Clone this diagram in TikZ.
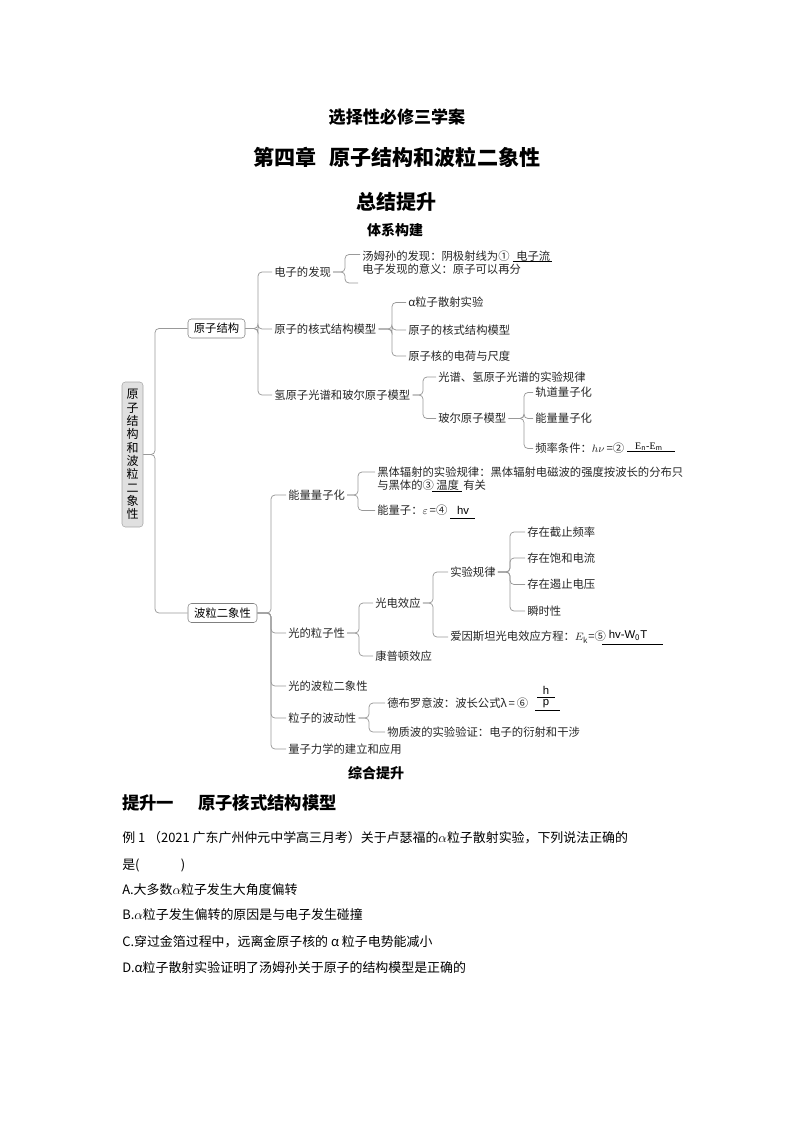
\documentclass[tikz,border=0pt]{standalone}
\usepackage{fontspec}
\setmainfont{Noto Sans CJK SC}
\newfontfamily\lat{Liberation Sans}
\newfontfamily\ser{Liberation Serif}
\begin{document}
\begin{tikzpicture}[x=0.75pt,y=-0.75pt,
  lbl/.style={anchor=west, inner xsep=1.5pt, inner ysep=1pt, xshift=-1.5pt, font=\fontsize{8.5}{10}\selectfont, text=black!85},
  ans/.style={inner sep=0pt, font=\lat\fontsize{8.5}{10}\selectfont},
  conn/.style={draw=black!40, line width=0.55pt, rounded corners=3pt},
  uline/.style={draw=black, line width=0.5pt},
  catbox/.style={draw=black!50, rounded corners=2.5pt, minimum height=14.25pt, inner xsep=2pt, inner ysep=0pt, font=\fontsize{8.5}{10}\selectfont},
  rootbox/.style={draw=black!35, fill=black!12, rounded corners=2.5pt, minimum width=15.75pt, minimum height=108.75pt, inner sep=0pt, align=center, font=\fontsize{9}{10}\selectfont},
  title/.style={font=\bfseries\fontsize{#1}{#1}\selectfont, inner sep=0pt},
  qtext/.style={anchor=west, inner sep=0pt, font=\fontsize{9.7}{11}\selectfont}
]
\useasboundingbox (0,0) rectangle (794,1123);

% titles
\node[title=12.8] (t1) at (397,117) {选择性必修三学案};
\node[title=15.8] (t2) at (397,157) {第四章\hspace{0.6em}原子结构和波粒二象性};
\node[title=15] (t3) at (396,202) {总结提升};
\node[title=10.5] (t4) at (395,230) {体系构建};

% root and category boxes
\node[rootbox] (root) at (132.5,454.5) {原\\子\\结\\构\\和\\波\\粒\\二\\象\\性};
\node[catbox, minimum width=42.75pt] (yz) at (216.5,328.5) {原子结构};
\node[catbox, minimum width=51.75pt] (bl) at (222.5,613) {波粒二象性};

% spine coordinates
\coordinate (s0) at (155,456);
\coordinate (s1) at (258,329);
\coordinate (s2) at (271,613);

\draw[conn] (root.east) -- (root.east -| s0) |- (yz.west);
\draw[conn] (root.east) -- (root.east -| s0) |- (bl.west);

% ===== 原子结构 branch =====
\node[lbl] (A) at (274,272) {电子的发现};
\node[lbl] (B) at (274,329) {原子的核式结构模型};
\node[lbl] (C) at (274,395) {氢原子光谱和玻尔原子模型};
\draw[conn] (yz.east) -- (yz.east -| s1) |- (A.west);
\draw[conn] (yz.east) -- (yz.east -| s1) |- (B.west);
\draw[conn] (yz.east) -- (yz.east -| s1) |- (C.west);

% 电子的发现
\coordinate (bA) at (345,272);
\node[lbl] (A1) at (362,256.5) {汤姆孙的发现：阴极射线为①};
\node[lbl] (A1b) at (362,269) {电子发现的意义：原子可以再分};
\node[lbl] (A1ans) at (516,256.5) {电子流};
\draw[uline] (513,261.7) -- (552,261.7);
\coordinate (A1e) at (358,283);
\draw[conn] (A.east) -- (A.east -| bA) |- ([yshift=1.5]A1.west);
\draw[conn] (A.east) -- (A.east -| bA) |- (A1e);

% 原子的核式结构模型
\coordinate (bB) at (392,329);
\node[lbl] (B1) at (408,302.5) {α粒子散射实验};
\node[lbl] (B2) at (408,330) {原子的核式结构模型};
\node[lbl] (B3) at (408,356) {原子核的电荷与尺度};
\draw[conn] (B.east) -- (B.east -| bB) |- (B1.west);
\draw[conn] (B.east) -- (B.east -| bB) |- (B2.west);
\draw[conn] (B.east) -- (B.east -| bB) |- (B3.west);

% 氢原子光谱和玻尔原子模型
\coordinate (bC) at (423,395);
\node[lbl] (C1) at (438,377) {光谱、氢原子光谱的实验规律};
\node[lbl] (C2) at (438,418.5) {玻尔原子模型};
\draw[conn] (C.east) -- (C.east -| bC) |- (C1.west);
\draw[conn] (C.east) -- (C.east -| bC) |- (C2.west);

\coordinate (bC2) at (524,418.5);
\node[lbl] (C21) at (535,392.5) {轨道量子化};
\node[lbl] (C22) at (535,418.5) {能量量子化};
\node[lbl] (C23) at (535,448.5) {频率条件：$h\nu$\,=②};
\node[inner sep=0pt, font=\ser\fontsize{7.5}{8}\selectfont] (C23ans) at (649,446.5) {E$_{\mathrm{n}}${-}E$_{\mathrm{m}}$};
\draw[uline] (627,451.5) -- (675,451.5);
\draw[conn] (C2.east) -- (C2.east -| bC2) |- (C21.west);
\draw[conn] (C2.east) -- (C2.east -| bC2) |- (C22.west);
\draw[conn] (C2.east) -- (C2.east -| bC2) |- (C23.west);

% ===== 波粒二象性 branch =====
\node[lbl] (D) at (288,495) {能量量子化};
\node[lbl] (E) at (288,633) {光的粒子性};
\node[lbl] (F) at (288,686) {光的波粒二象性};
\node[lbl] (G) at (288,718) {粒子的波动性};
\node[lbl] (H) at (288,749) {量子力学的建立和应用};
\foreach \n in {D,E,F,G,H}
  \draw[conn] (bl.east) -- (bl.east -| s2) |- (\n.west);

% 能量量子化
\coordinate (bD) at (358,495);
\node[lbl] (D1) at (377,472) {黑体辐射的实验规律：黑体辐射电磁波的强度按波长的分布只};
\node[lbl] (D1b) at (377,485.5) {与黑体的③\hspace{2.6em}有关};
\node[lbl] (D1ans) at (436,485.5) {温度};
\draw[uline] (432,491) -- (462,491);
\node[lbl] (D2) at (377,510.5) {能量子：$\varepsilon$\,=④};
\node[ans] (D2ans) at (463,510) {hv};
\draw[uline] (450,518) -- (475,518);
\draw[conn] (D.east) -- (D.east -| bD) |- (D1.west);
\draw[conn] (D.east) -- (D.east -| bD) |- (D2.west);

% 光的粒子性
\coordinate (bE) at (359,633);
\node[lbl] (E1) at (375,603) {光电效应};
\node[lbl] (E2) at (375,656) {康普顿效应};
\draw[conn] (E.east) -- (E.east -| bE) |- (E1.west);
\draw[conn] (E.east) -- (E.east -| bE) |- (E2.west);

\coordinate (bE1) at (433,603);
\node[lbl] (E11) at (450,572) {实验规律};
\node[lbl] (E12) at (450,637) {爱因斯坦光电效应方程：$E_{\mathrm{k}}$=⑤};
\node[ans] (E12ans) at (628,635) {hv-W$_{\mathrm{0}}$T};
\draw[uline] (602,644) -- (663,644);
\draw[conn] (E1.east) -- (E1.east -| bE1) |- (E11.west);
\draw[conn] (E1.east) -- (E1.east -| bE1) |- (E12.west);

\coordinate (bE11) at (510,572);
\node[lbl] (E111) at (527,532) {存在截止频率};
\node[lbl] (E112) at (527,558) {存在饱和电流};
\node[lbl] (E113) at (527,584.5) {存在遏止电压};
\node[lbl] (E114) at (527,611) {瞬时性};
\foreach \n in {E111,E112,E113,E114}
  \draw[conn] (E11.east) -- (E11.east -| bE11) |- (\n.west);

% 粒子的波动性
\coordinate (bG) at (369,718);
\node[lbl] (G1) at (387,703) {德布罗意波：波长公式λ\,=\,⑥};
\node[ans] (G1h) at (546,690) {h};
\node[ans] (G1p) at (546,704) {p};
\draw[uline] (537,697) -- (555,697);
\draw[uline] (535,710) -- (560,710);
\node[lbl] (G2) at (387,732) {物质波的实验验证：电子的衍射和干涉};
\draw[conn] (G.east) -- (G.east -| bG) |- (G1.west);
\draw[conn] (G.east) -- (G.east -| bG) |- (G2.west);

% ===== bottom text =====
\node[title=10.5] (t5) at (376,773) {综合提升};
\node[title=13, anchor=west] (t6) at (122,803) {提升一};
\node[title=13, anchor=west] (t7) at (198,803) {原子核式结构模型};
\node[qtext] (q0) at (122,838) {例 1 （2021 广东广州仲元中学高三月考）关于卢瑟福的$\alpha$粒子散射实验，下列说法正确的};
\node[qtext] (q1) at (122,865) {是(\hspace{3.2em})};
\node[qtext] (qA) at (122,890) {A.大多数$\alpha$粒子发生大角度偏转};
\node[qtext] (qB) at (122,915) {B.$\alpha$粒子发生偏转的原因是与电子发生碰撞};
\node[qtext] (qC) at (122,942) {C.穿过金箔过程中，远离金原子核的 α 粒子电势能减小};
\node[qtext] (qD) at (122,968) {D.α粒子散射实验证明了汤姆孙关于原子的结构模型是正确的};
\end{tikzpicture}
\end{document}
